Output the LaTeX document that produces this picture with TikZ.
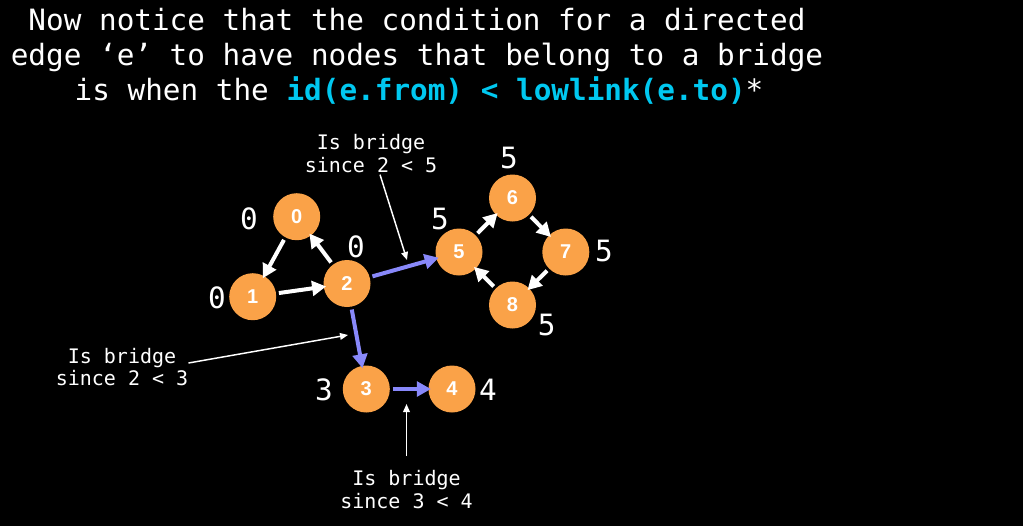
\documentclass[tikz,border=0pt]{standalone}
\usepackage{fontspec}
\usetikzlibrary{arrows.meta}
\newfontfamily\monofam{DejaVu Sans Mono}
\newfontfamily\numfam{Liberation Sans}
\definecolor{nodeorange}{RGB}{250,162,72}
\definecolor{bridgeblue}{RGB}{136,136,250}
\definecolor{condcyan}{RGB}{0,200,240}
\begin{document}
\begin{tikzpicture}[x=0.75pt,y=-0.75pt,
  vertex/.style={circle,fill=nodeorange,minimum size=35.25pt,inner sep=0pt,
    text=white,font=\numfam\bfseries\fontsize{15pt}{15pt}\selectfont},
  idlabel/.style={text=white,inner sep=0pt,font=\monofam\fontsize{22pt}{22pt}\selectfont},
  titleline/.style={text=white,anchor=base,inner sep=0pt,font=\monofam\fontsize{22pt}{26pt}\selectfont},
  noteline/.style={text=white,anchor=base,inner sep=1pt,font=\monofam\fontsize{15pt}{15pt}\selectfont},
  dfsedge/.style={draw=white,line width=3pt,shorten <=2pt,shorten >=-2pt,
    -{Triangle[length=10.5pt,width=11pt]}},
  bridgeedge/.style={draw=bridgeblue,line width=3pt,shorten <=2pt,shorten >=-2pt,
    -{Triangle[length=10.5pt,width=11pt]}},
  pointer/.style={draw=white,line width=1.1pt,-{Triangle[length=6pt,width=5pt]}}]

% canvas
\fill[black] (0,0) rectangle (1023,526);
\useasboundingbox (0,0) rectangle (1023,526);

% heading
\node[titleline] (t1) at (417,30.7) {Now notice that the condition for a directed};
\node[titleline] (t2) at (417,65.7) {edge ‘e’ to have nodes that belong to a bridge};
\node[titleline] (t3) at (419,100.7) {is when the {\bfseries\color{condcyan}id(e.from) < lowlink(e.to)}*};

% vertices
\node[vertex] (v0) at (296.7,216.7) {0};
\node[vertex] (v1) at (252.7,296.7) {1};
\node[vertex] (v2) at (347,283.5) {2};
\node[vertex] (v3) at (366.3,389) {3};
\node[vertex] (v4) at (452,389) {4};
\node[vertex] (v5) at (459,252) {5};
\node[vertex] (v6) at (512.5,198) {6};
\node[vertex] (v7) at (565.8,252) {7};
\node[vertex] (v8) at (512.5,305) {8};

% low-link values
\node[idlabel] (l0) at (249,219) {0};
\node[idlabel] (l1) at (217,298) {0};
\node[idlabel] (l2) at (356,247) {0};
\node[idlabel] (l3) at (324,390) {3};
\node[idlabel] (l4) at (488,390) {4};
\node[idlabel] (l5) at (440,219) {5};
\node[idlabel] (l6) at (509,158) {5};
\node[idlabel] (l7) at (604,251) {5};
\node[idlabel] (l8) at (546.7,325) {5};

% tree and back edges
\draw[dfsedge] (v0) -- (v1);
\draw[dfsedge] (v1) -- (v2);
\draw[dfsedge] (v2) -- (v0);
\draw[dfsedge] (v5) -- (v6);
\draw[dfsedge] (v6) -- (v7);
\draw[dfsedge] (v7) -- (v8);
\draw[dfsedge] (v8) -- (v5);

% bridges
\draw[bridgeedge] (v2) -- (v5);
\draw[bridgeedge] (v2) -- (v3);
\draw[bridgeedge] (v3) -- (v4);

% notes
\node[noteline] (a1l1) at (371,149.3) {Is bridge};
\node[noteline] (a1l2) at (371,172.7) {since 2 < 5};
\coordinate (a1tip) at (407,260);
\draw[pointer] ([xshift=6.75pt]a1l2.south) -- (a1tip);

\node[noteline] (a2l1) at (122,363) {Is bridge};
\node[noteline] (a2l2) at (122,385) {since 2 < 3};
\coordinate (a2tip) at (348,335);
\draw[pointer] ([xshift=8pt]a2l1.base east) -- (a2tip);

\node[noteline] (a3l1) at (406.5,485) {Is bridge};
\node[noteline] (a3l2) at (406.5,508) {since 3 < 4};
\coordinate (a3tip) at (406.5,404);
\draw[pointer] ([yshift=9pt]a3l1.north) -- (a3tip);
\end{tikzpicture}
\end{document}
